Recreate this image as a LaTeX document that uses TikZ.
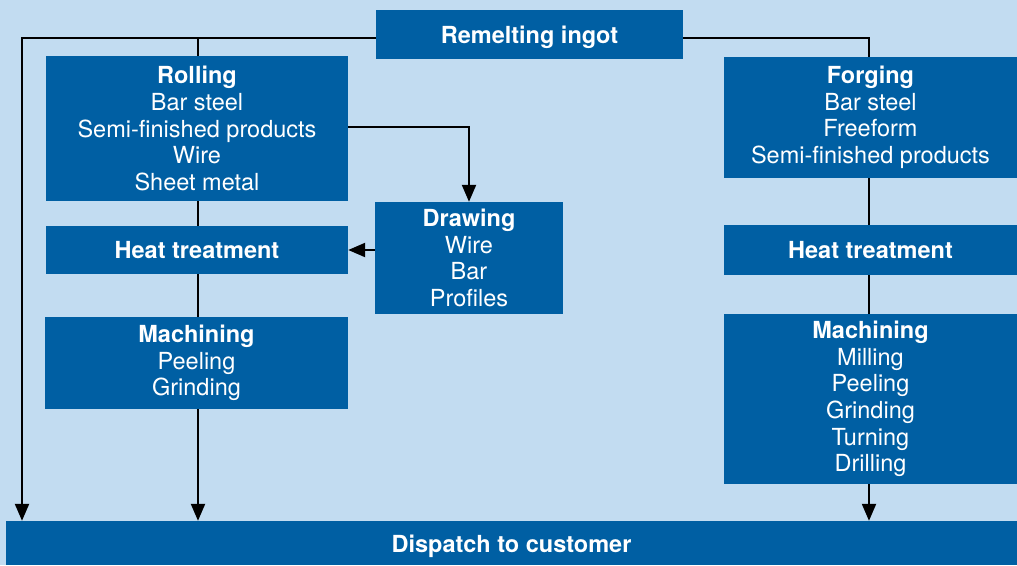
\documentclass[tikz,border=0pt]{standalone}
\usepackage{fontspec}
\setmainfont{TeX Gyre Heros}
\usetikzlibrary{arrows.meta}
\definecolor{bgblue}{RGB}{194,220,241}
\definecolor{boxblue}{RGB}{0,95,163}
\begin{document}
\begin{tikzpicture}[x=1pt,y=-1pt,
  box/.style={draw=none,fill=boxblue,text=white,inner sep=0pt,align=center,
    font=\fontsize{23.5}{26.6}\selectfont},
  conn/.style={line width=2.2pt,black},
  arr/.style={conn,-{Triangle[length=17pt,width=14pt]}}]
\fill[bgblue] (0,0) rectangle (1017,565);
\useasboundingbox (0,0) rectangle (1017,565);
\node[box,minimum width=307pt,minimum height=49pt] (ingot) at (529.5,34.5) {\raisebox{-2.5pt}[\height][\depth]{\textbf{Remelting ingot}}};
\node[box,minimum width=302pt,minimum height=145pt] (rolling) at (197,128.5)
  {\textbf{Rolling}\\Bar steel\\Semi-finished products\\Wire\\Sheet metal};
\node[box,minimum width=302pt,minimum height=48pt] (heatL) at (197,250) {\textbf{Heat treatment}};
\node[box,minimum width=303pt,minimum height=92pt] (machL) at (196.5,363) {\textbf{Machining}\\Peeling\\Grinding};
\node[box,minimum width=188pt,minimum height=112pt] (drawing) at (469,258) {\textbf{Drawing}\\Wire\\Bar\\Profiles};
\node[box,minimum width=293pt,minimum height=121pt] (forging) at (870.5,117.5)
  {\textbf{Forging}\\Bar steel\\Freeform\\Semi-finished products};
\node[box,minimum width=293pt,minimum height=50pt] (heatR) at (870.5,250) {\textbf{Heat treatment}};
\node[box,minimum width=293pt,minimum height=170pt] (machR) at (870.5,399)
  {\textbf{Machining}\\Milling\\Peeling\\Grinding\\Turning\\Drilling};
\node[box,minimum width=1011pt,minimum height=44pt] (dispatch) at (511.5,543) {\raisebox{-3pt}[\height][\depth]{\textbf{Dispatch to customer}}};
% coordinates for connector routing
\coordinate (iL) at (ingot.west |- 0,38);
\coordinate (iR) at (ingot.east |- 0,38);
\coordinate (cL) at (22,38);
\coordinate (cM) at (198,38);
\coordinate (cR) at (869,38);
\coordinate (rE) at (rolling.east |- 0,127);
\coordinate (dN) at (469,127);
% connectors
\draw[arr] (iL) -- (cL) -- (cL |- dispatch.north);
\draw[conn] (cM) -- (cM |- rolling.north);
\draw[conn] (cM |- rolling.south) -- (cM |- heatL.north);
\draw[conn] (cM |- heatL.south) -- (cM |- machL.north);
\draw[arr] (cM |- machL.south) -- (cM |- dispatch.north);
\draw[conn] (iR) -- (cR) -- (cR |- forging.north);
\draw[conn] (cR |- forging.south) -- (cR |- heatR.north);
\draw[conn] (cR |- heatR.south) -- (cR |- machR.north);
\draw[arr] (cR |- machR.south) -- (cR |- dispatch.north);
\draw[arr] (rE) -- (dN) -- (dN |- drawing.north);
\draw[arr] (drawing.west |- 0,250) -- (heatL.east |- 0,250);
\end{tikzpicture}
\end{document}
